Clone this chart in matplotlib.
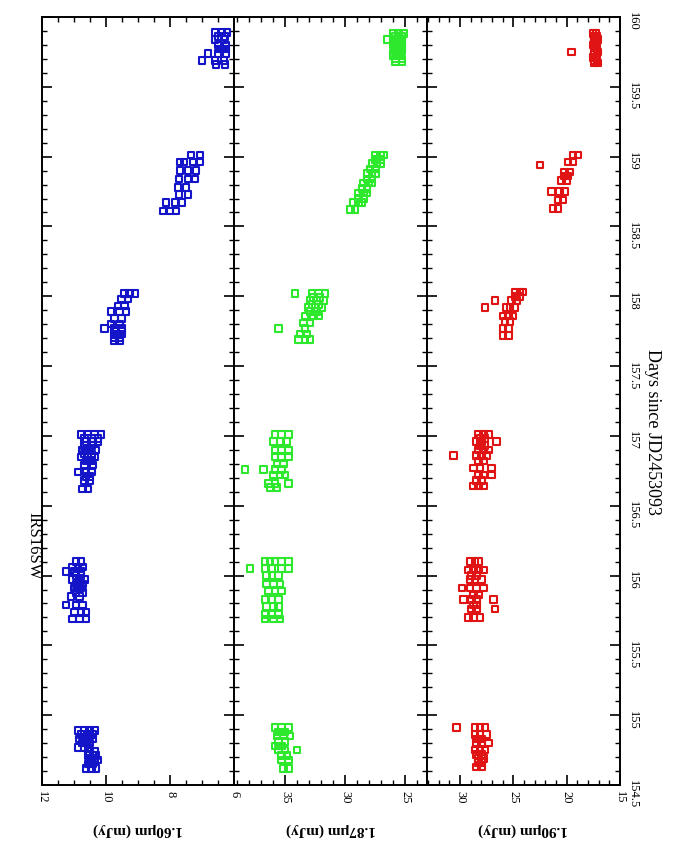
import numpy as np
import matplotlib
matplotlib.use('Agg')
import matplotlib.pyplot as plt
from matplotlib.ticker import MultipleLocator, FuncFormatter

plt.rcParams['font.family'] = ['Liberation Serif', 'DejaVu Serif']

# light curves of IRS16SW, one row = (days since JD2453093, fluxes in mJy at that time)
rows_160 = [
    # night 1
    (154.89, [10.88, 10.67, 10.52, 10.36]), (154.86, [10.78, 10.57, 10.41]),
    (154.83, [10.83, 10.62, 10.41]), (154.80, [10.73, 10.52]),
    (154.77, [10.88, 10.67, 10.57]), (154.74, [10.52, 10.36]),
    (154.71, [10.57, 10.41, 10.31]), (154.68, [10.52, 10.36, 10.25]),
    (154.65, [10.57, 10.41]), (154.62, [10.62, 10.46, 10.31]),
    # night 2
    (156.10, [10.93, 10.78]), (156.06, [11.04, 10.88, 10.73]),
    (156.03, [11.25, 10.99, 10.78]), (156.00, [10.93, 10.78]),
    (155.97, [11.04, 10.83, 10.67]), (155.94, [10.93, 10.73]),
    (155.91, [10.99, 10.78]), (155.88, [10.93, 10.73]), (155.85, [11.09, 10.83]),
    (155.79, [11.25, 10.93, 10.73]), (155.74, [10.99, 10.78, 10.62]),
    (155.69, [11.04, 10.83, 10.62]),
    # night 3
    (157.01, [10.78, 10.57, 10.36, 10.15]), (156.98, [10.67, 10.46, 10.25]),
    (156.96, [10.62, 10.41, 10.25]), (156.93, [10.67, 10.46]),
    (156.90, [10.73, 10.52, 10.31]), (156.87, [10.67, 10.46]),
    (156.85, [10.78, 10.57, 10.36]), (156.82, [10.62, 10.46]),
    (156.79, [10.67, 10.41]), (156.74, [10.88, 10.62, 10.46]),
    (156.71, [10.62, 10.52]), (156.68, [10.67, 10.52]), (156.62, [10.73, 10.57]),
    # night 4
    (158.02, [9.42, 9.26, 9.10]), (157.98, [9.52, 9.31]), (157.93, [9.63, 9.42]),
    (157.89, [9.84, 9.58, 9.37]), (157.84, [9.73, 9.52]), (157.80, [9.84, 9.58]),
    (157.77, [10.05, 9.73, 9.52]), (157.75, [9.68, 9.52]),
    (157.73, [9.73, 9.52]), (157.70, [9.73, 9.58]), (157.68, [9.73, 9.58]),
    # night 5
    (159.01, [7.34, 7.06]), (158.96, [7.69, 7.56, 7.28, 7.06]),
    (158.90, [7.69, 7.44, 7.19]), (158.84, [7.72, 7.44, 7.22]),
    (158.78, [7.75, 7.50]), (158.73, [7.72, 7.44]),
    (158.67, [8.12, 7.84, 7.62]), (158.61, [8.22, 8.00, 7.81]),
    # night 6
    (159.89, [6.59, 6.38, 6.22]), (159.86, [6.50, 6.28]), (159.84, [6.59, 6.31]),
    (159.80, [6.50, 6.25]), (159.77, [6.47, 6.25]), (159.74, [6.81, 6.50, 6.25]),
    (159.69, [7.00, 6.59, 6.31]), (159.66, [6.56, 6.28]),
]

rows_187 = [
    (154.91, [35.83, 35.28, 34.72]), (154.88, [35.56, 35.00]),
    (154.85, [35.69, 35.14, 34.58]), (154.81, [35.56, 35.00]),
    (154.78, [35.83, 35.28]), (154.75, [35.56, 35.00, 34.03]),
    (154.71, [35.28, 34.86]), (154.68, [35.28, 34.72]), (154.62, [35.14, 34.72]),
    (156.10, [36.67, 36.25, 35.83, 35.28, 34.72]), (156.05, [37.92, 36.67, 36.11, 35.28, 34.72]),
    (156.00, [36.53, 36.11, 35.56]), (155.94, [36.53, 35.97, 35.42]),
    (155.89, [36.39, 35.83, 35.28]), (155.83, [36.67, 36.11, 35.56]),
    (155.78, [36.53, 35.97, 35.56]), (155.72, [36.67, 36.11, 35.56]),
    (155.69, [36.67, 35.97, 35.42]),
    (157.01, [35.83, 35.28, 34.72]), (156.96, [35.97, 35.42, 34.86]),
    (156.90, [35.83, 35.28, 34.72]), (156.85, [35.83, 35.28, 34.72]),
    (156.80, [35.69, 35.14]), (156.76, [38.33, 36.81, 35.83, 35.28]),
    (156.72, [35.97, 35.42, 35.00]), (156.66, [36.39, 35.83, 34.72]),
    (156.63, [36.25, 35.69]),
    (158.02, [34.17, 32.78, 32.22, 31.67]), (157.99, [32.64, 32.08]),
    (157.97, [32.92, 32.36, 31.81]), (157.94, [32.78, 32.22]),
    (157.92, [33.06, 32.50, 31.94]), (157.89, [32.92, 32.36]),
    (157.86, [33.33, 32.64, 32.22]), (157.81, [33.47, 32.92]), (157.77, [35.56, 33.33]),
    (157.73, [33.75, 33.19]), (157.69, [33.89, 33.33, 32.92]),
    (159.01, [27.50, 27.08, 26.81]), (158.98, [27.50, 27.08]),
    (158.95, [27.78, 27.36, 27.08]), (158.91, [27.92, 27.50]),
    (158.88, [28.19, 27.78, 27.50]), (158.84, [28.19, 27.78]),
    (158.81, [28.47, 28.06, 27.78]), (158.77, [28.61, 28.19]),
    (158.74, [28.89, 28.47, 28.19]), (158.70, [28.89, 28.47]),
    (158.67, [29.31, 28.89, 28.61]), (158.62, [29.58, 29.17]),
    (159.88, [25.97, 25.56, 25.14]), (159.86, [25.83, 25.28]),
    (159.84, [26.53, 25.83, 25.28]), (159.82, [25.83, 25.28]),
    (159.80, [25.97, 25.42]), (159.78, [25.83, 25.28]), (159.76, [25.83, 25.28]),
    (159.74, [25.97, 25.42]), (159.72, [25.97, 25.42]), (159.70, [25.83, 25.28]),
    (159.68, [25.83, 25.28]),
]

rows_190 = [
    (154.91, [30.31, 28.60, 28.13, 27.66]), (154.86, [28.60, 28.13, 27.51]),
    (154.83, [28.44, 27.98]), (154.80, [28.44, 27.98, 27.35]),
    (154.75, [28.60, 28.13, 27.66]), (154.72, [28.44, 27.98]),
    (154.69, [28.29, 27.82]), (154.66, [28.29, 27.98]), (154.63, [28.44, 27.98]),
    (156.10, [29.07, 28.60, 28.29]), (156.04, [29.22, 28.75, 28.29, 27.82]),
    (156.00, [28.91, 28.44]), (155.97, [29.07, 28.60, 27.98]),
    (155.91, [29.84, 29.07, 28.44, 27.82]), (155.86, [28.75, 28.29]),
    (155.83, [29.69, 28.91, 28.44, 26.88]), (155.79, [28.75, 28.44]),
    (155.76, [28.91, 28.44, 26.73]), (155.70, [29.22, 28.75, 28.13]),
    (157.01, [28.29, 27.82, 27.35]), (156.98, [28.13, 27.66]),
    (156.96, [28.44, 27.98, 26.57]), (156.93, [28.13, 27.66]),
    (156.90, [28.29, 27.82, 27.35]), (156.86, [30.62, 28.44, 27.98, 27.51]),
    (156.82, [28.29, 27.82]),
    (156.77, [28.75, 28.13, 27.04]), (156.72, [28.29, 27.82, 27.04]),
    (156.68, [28.44, 27.98]), (156.64, [28.75, 28.29, 27.82]),
    (158.03, [24.86, 24.39, 24.08]), (158.00, [24.86, 24.39]),
    (157.97, [26.73, 25.17, 24.70]),
    (157.92, [27.66, 25.64, 25.33, 24.86]), (157.86, [25.95, 25.48, 25.02]),
    (157.82, [25.79, 25.33]), (157.77, [25.95, 25.48]), (157.72, [25.95, 25.48]),
    (159.01, [19.41, 18.94]), (158.96, [19.88, 19.41]), (158.94, [22.52]),
    (158.89, [20.19, 19.72]), (158.86, [20.19, 19.88]), (158.83, [20.50, 20.03]),
    (158.75, [21.43, 20.65, 20.19]), (158.69, [20.81, 20.34]), (158.63, [21.28, 20.81]),
    (159.88, [17.54, 17.23]), (159.86, [17.46, 17.15]), (159.84, [17.38, 17.07]),
    (159.82, [17.46, 17.15]), (159.80, [17.54, 17.23]), (159.78, [17.46, 17.15]),
    (159.75, [19.56, 17.38, 17.07]), (159.73, [17.46, 17.15]), (159.71, [17.54, 17.23]),
    (159.69, [17.46, 17.15]), (159.67, [17.38, 17.07]),
]

band_labels = ['1.60\u03bcm (mJy)', '1.87\u03bcm (mJy)', '1.90\u03bcm (mJy)']
band_colors = ['#1414c8', '#2ee82e', '#e01414']
flux_limits = [(12, 6), (39.25, 23.2), (33.1, 15)]
flux_major = [2, 5, 5]
flux_minor = [0.5, 1, 1]


def flatten(rows):
    t, f = [], []
    for day, vals in rows:
        t += [day] * len(vals)
        f += vals
    return np.array(t), np.array(f)


W, H = 678, 861
fig = plt.figure(figsize=(W / 100, H / 100), dpi=100)

edges = [42, 234, 427, 620]
y0, y1 = 17, 785
axes = []
for i, rows in enumerate([rows_160, rows_187, rows_190]):
    ax = fig.add_axes([edges[i] / W, 1 - y1 / H, (edges[i + 1] - edges[i]) / W, (y1 - y0) / H])
    t, f = flatten(rows)
    ax.scatter(f, t, marker='s', s=22, facecolors='none', edgecolors=band_colors[i],
               linewidths=1.5, zorder=3)
    ax.set_xlim(*flux_limits[i])
    ax.set_ylim(154.5, 160)
    ax.xaxis.set_major_locator(MultipleLocator(flux_major[i]))
    ax.xaxis.set_minor_locator(MultipleLocator(flux_minor[i]))
    ax.yaxis.set_major_locator(MultipleLocator(0.5))
    ax.yaxis.set_minor_locator(MultipleLocator(0.1))
    ax.yaxis.set_major_formatter(FuncFormatter(lambda v, p: '%g' % v))
    ax.tick_params(which='both', direction='in', top=True, bottom=True,
                   left=True, right=True, labelleft=False, labelright=(i == 2))
    ax.tick_params(which='major', length=7, width=1.2)
    ax.tick_params(which='minor', length=3.5, width=1.0)
    ax.tick_params(axis='x', labelrotation=-90, labelsize=9, pad=4)
    ax.tick_params(axis='y', labelrotation=-90, labelsize=9, pad=5)
    for sp in ax.spines.values():
        sp.set_linewidth(1.4)
    fig.text((edges[i] + edges[i + 1]) / 2 / W, 1 - 830 / H, band_labels[i],
             rotation=180, ha='center', va='center', fontsize=11, fontweight='bold')
    axes.append(ax)

# the third panel keeps the day labels on its right edge
for lab in axes[2].get_yticklabels():
    lab.set_ha('left')

fig.text(652 / W, 1 - 432 / H, 'Days since JD2453093', rotation=-90,
         ha='center', va='center', fontsize=13)
fig.text(33 / W, 1 - 546 / H, 'IRS16SW', rotation=-90, ha='center', va='center', fontsize=12)

fig.savefig('out.png', dpi=100)
